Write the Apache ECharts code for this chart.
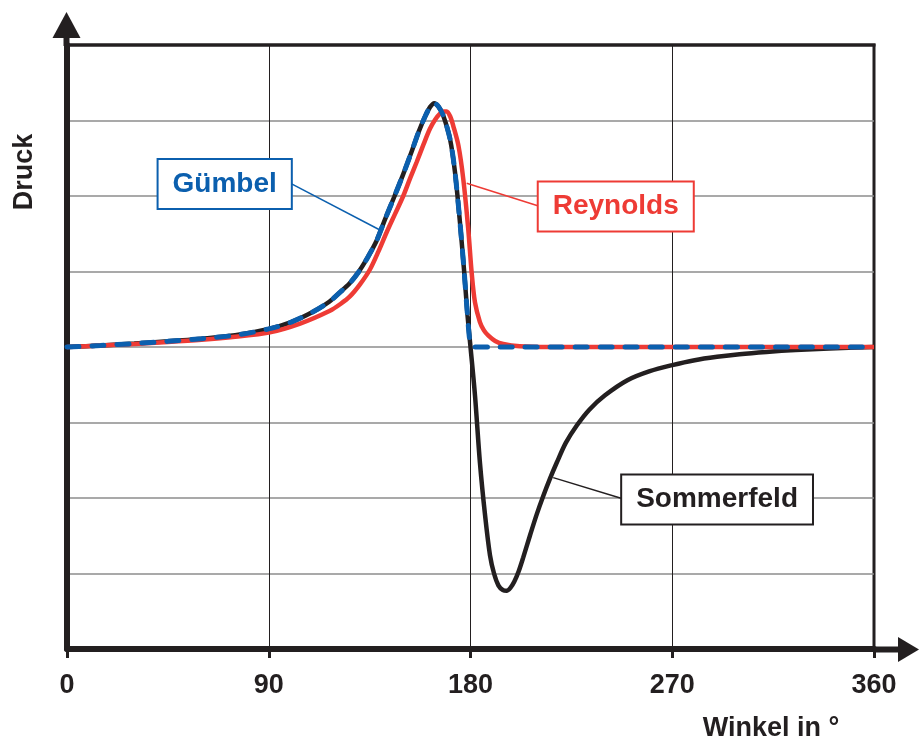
<!DOCTYPE html>
<html><head><meta charset="utf-8">
<script src="https://cdn.jsdelivr.net/npm/echarts@6/dist/echarts.min.js"></script>
<style>html,body{margin:0;padding:0;background:#fff}#c{width:919px;height:743px}</style>
</head><body><div id="c"></div>
<script>
// ---- data ----
const xTickLabels = ['0', '90', '180', '270', '360'];

const sommerfeldAngle = [0, 15, 30, 45, 60, 75, 90, 100, 110, 117, 122, 126, 130, 134, 138, 142, 146, 150, 154, 157, 160, 162, 163.8, 165.8, 167.9, 170.9, 173.1, 175.3, 177.2, 178.7, 180, 182, 184.2, 186.5, 188.7, 190.5, 192.5, 194.5, 196.1, 197.8, 199.5, 201.5, 203.5, 206.5, 209.5, 212.5, 215.5, 218.5, 222.5, 227.4, 233, 240, 250, 260, 270, 280, 290, 300, 312, 325, 340, 360];
const sommerfeldPressure = [0, 0.02, 0.045, 0.075, 0.11, 0.155, 0.24, 0.33, 0.47, 0.60, 0.73, 0.84, 0.99, 1.18, 1.40, 1.70, 1.99, 2.29, 2.61, 2.86, 3.07, 3.18, 3.23, 3.18, 3.06, 2.75, 2.31, 1.65, 0.99, 0.41, 0, -0.64, -1.53, -2.23, -2.76, -3.0, -3.16, -3.22, -3.23, -3.19, -3.11, -2.97, -2.79, -2.5, -2.22, -1.97, -1.74, -1.53, -1.27, -1.04, -0.83, -0.64, -0.44, -0.32, -0.24, -0.175, -0.13, -0.095, -0.065, -0.04, -0.02, 0];

const reynoldsAngle = [0, 15, 30, 45, 60, 75, 90, 104, 117.3, 122, 126.2, 130.7, 135.2, 139, 142.6, 146.3, 150, 153, 156, 159, 161.9, 164.2, 166.4, 168, 169.4, 171, 172.3, 174.6, 176.8, 179, 180.5, 182, 184.2, 186, 188, 191, 194.6, 202, 215, 360];
const reynoldsPressure = [0, 0.02, 0.04, 0.065, 0.095, 0.135, 0.19, 0.31, 0.48, 0.57, 0.67, 0.83, 1.03, 1.27, 1.52, 1.76, 2.0, 2.23, 2.45, 2.68, 2.89, 3.01, 3.09, 3.12, 3.12, 3.05, 2.93, 2.67, 2.22, 1.56, 0.99, 0.59, 0.33, 0.22, 0.15, 0.08, 0.04, 0.01, 0, 0];

const gumbelAngle = [0, 15, 30, 45, 60, 75, 90, 100, 110, 117, 122, 126, 130, 134, 138, 142, 146, 150, 154, 157, 160, 162, 163.8, 165.8, 167.9, 170.9, 173.1, 175.3, 177.2, 178.7, 180, 181.5, 190, 360];
const gumbelPressure = [0, 0.02, 0.045, 0.075, 0.11, 0.155, 0.24, 0.33, 0.47, 0.60, 0.73, 0.84, 0.99, 1.18, 1.40, 1.70, 1.99, 2.29, 2.61, 2.86, 3.07, 3.18, 3.23, 3.18, 3.06, 2.75, 2.31, 1.65, 0.99, 0.41, 0.03, 0, 0, 0];

const zip = (a, b) => a.map((v, i) => [v, b[i]]);

// ---- styling ----
const FONT = '"Liberation Sans", Arial, Helvetica, sans-serif';
const INK = '#231f20';
const BLUE = '#0b5fae';
const RED = '#ee3b35';

function boxLabel(text, color) {
  return {
    show: true, formatter: text, position: 'inside',
    color: color, fontSize: 28, fontWeight: 'bold', fontFamily: FONT,
    backgroundColor: '#fff', borderColor: color, borderWidth: 2,
    padding: [9, 14], lineHeight: 30
  };
}
function annotation(text, color, at, from, to) {
  return {
    markPoint: {
      silent: true, symbol: 'circle', symbolSize: 1,
      itemStyle: { color: 'transparent' },
      label: boxLabel(text, color),
      data: [{ coord: at }]
    },
    markLine: {
      silent: true, symbol: ['none', 'none'], animation: false,
      label: { show: false },
      lineStyle: { color: color, width: 1.5, type: 'solid' },
      emphasis: { disabled: true },
      data: [[{ coord: from }, { coord: to }]]
    }
  };
}

const chart = echarts.init(document.getElementById('c'), null, { renderer: 'canvas' });
const option = {
  animation: false,
  backgroundColor: '#fff',
  grid: { left: 67, right: 45, top: 45, bottom: 94, show: true, borderColor: INK, borderWidth: 3, backgroundColor: 'transparent' },
  xAxis: {
    type: 'value', min: 0, max: 360, interval: 90,
    axisLine: { show: true, onZero: false, lineStyle: { color: INK, width: 6 } },
    axisTick: { show: true, inside: false, length: 9, lineStyle: { color: INK, width: 3 } },
    axisLabel: {
      show: true, margin: 23, color: INK, fontSize: 27, fontWeight: 'bold', fontFamily: FONT,
      formatter: v => xTickLabels[Math.round(v / 90)]
    },
    splitLine: { show: true, lineStyle: { color: INK, width: 1 } }
  },
  yAxis: {
    type: 'value', min: -4, max: 4, interval: 1,
    axisLine: { show: true, onZero: false, lineStyle: { color: INK, width: 6 } },
    axisTick: { show: false },
    axisLabel: { show: false },
    splitLine: { show: true, lineStyle: { color: '#8c8c8c', width: 1.5 } }
  },
  series: [
    Object.assign({
      name: 'Sommerfeld', type: 'line', data: zip(sommerfeldAngle, sommerfeldPressure),
      showSymbol: false, smooth: 0.3, z: 2,
      lineStyle: { color: INK, width: 4.5 }
    }, annotation('Sommerfeld', INK, [290, -2.02], [247.9, -2.01], [216.9, -1.73])),
    Object.assign({
      name: 'Reynolds', type: 'line', data: zip(reynoldsAngle, reynoldsPressure),
      showSymbol: false, smooth: 0.3, z: 3,
      lineStyle: { color: RED, width: 4.5 }
    }, annotation('Reynolds', RED, [244.8, 1.86], [210.0, 1.87], [178.3, 2.17])),
    Object.assign({
      name: 'Gümbel', type: 'line', data: zip(gumbelAngle, gumbelPressure),
      showSymbol: false, smooth: 0.3, z: 4,
      lineStyle: { color: BLUE, width: 5, type: [12, 13], cap: 'round' }
    }, annotation('Gümbel', BLUE, [70.35, 2.16], [100.2, 2.16], [139.6, 1.55]))
  ],
  graphic: [
    // top border over the grey split line
    { type: 'line', shape: { x1: 66, y1: 45, x2: 875.5, y2: 45 }, style: { stroke: INK, lineWidth: 3 }, z: 100 },
    // axis extensions with arrow heads
    { type: 'line', shape: { x1: 874, y1: 649.5, x2: 900, y2: 649.5 }, style: { stroke: INK, lineWidth: 6 }, z: 100 },
    { type: 'polygon', shape: { points: [[898, 637], [919, 649.5], [898, 662]] }, style: { fill: INK }, z: 100 },
    { type: 'line', shape: { x1: 66.5, y1: 46, x2: 66.5, y2: 36 }, style: { stroke: INK, lineWidth: 6 }, z: 100 },
    { type: 'polygon', shape: { points: [[52.5, 38], [66.5, 12], [80.5, 38]] }, style: { fill: INK }, z: 100 },
    // axis titles
    { type: 'text', x: 771, y: 729, z: 100, style: { text: 'Winkel in °', font: 'bold 27px ' + FONT, fill: INK, align: 'center', verticalAlign: 'middle' } },
    { type: 'text', x: 25, y: 172, rotation: Math.PI / 2, z: 100, style: { text: 'Druck', font: 'bold 27px ' + FONT, fill: INK, align: 'center', verticalAlign: 'middle' } }
  ]
};
chart.setOption(option);
</script>
</body></html>
